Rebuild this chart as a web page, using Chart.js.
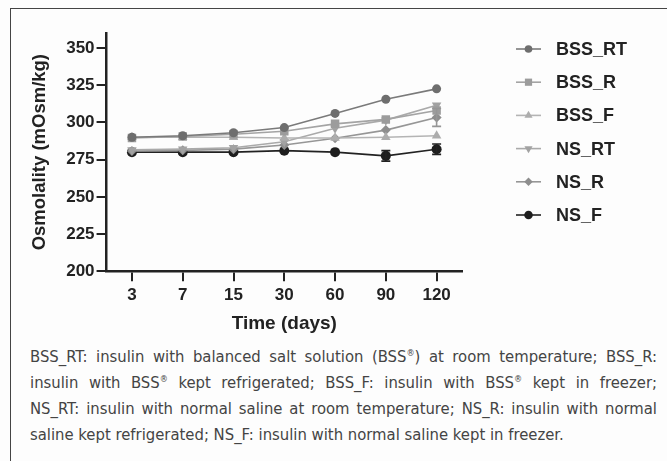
<!DOCTYPE html>
<html lang="en">
<head>
    <meta charset="UTF-8">
    <title>Osmolality</title>
    <script src="https://cdn.jsdelivr.net/npm/chart.js"></script>
    <style>
        body {
            margin: 0;
            background: #fdfdfd;
            width: 667px;
            height: 461px;
            overflow: hidden;
            position: relative;
        }
        .frame {
            position: absolute;
            left: 10px;
            top: 8px;
            width: 700px;
            height: 500px;
            border-left: 1.5px solid #444;
            border-top: 1.5px solid #444;
        }
        .chartbox {
            position: absolute;
            left: 0;
            top: 0;
            width: 667px;
            height: 340px;
        }
        .caption {
            position: absolute;
            left: 30px;
            top: 344px;
            width: 627px;
            font-family: "Liberation Sans Narrow", "DejaVu Sans Condensed", "Liberation Sans", sans-serif;
            font-stretch: condensed;
            font-size: 16.5px;
            line-height: 26px;
            color: #444;
        }
        .caption div {
            text-align: justify;
            text-align-last: justify;
        }
        .caption div.last {
            text-align-last: left;
        }
        .caption sup {
            font-size: 0.55em;
            line-height: 0;
        }
    </style>
</head>
<body>
    <div class="frame"></div>
    <div class="chartbox"><canvas id="osmChart" width="667" height="340"></canvas></div>
    <div class="caption">
        <div>BSS_RT: insulin with balanced salt solution (BSS<sup>&reg;</sup>) at room temperature; BSS_R:</div>
        <div>insulin with BSS<sup>&reg;</sup> kept refrigerated; BSS_F: insulin with BSS<sup>&reg;</sup> kept in freezer;</div>
        <div>NS_RT: insulin with normal saline at room temperature; NS_R: insulin with normal</div>
        <div class="last">saline kept refrigerated; NS_F: insulin with normal saline kept in freezer.</div>
    </div>

    <script>
        // time points (days)
        const days = ['3', '7', '15', '30', '60', '90', '120'];

        // osmolality, mOsm/kg
        const bssRT = [290, 291, 293, 296.5, 306, 315.5, 322.5];
        const bssR = [289.5, 290.5, 292, 294, 299, 302, 308];
        const bssF = [290, 290, 290, 289.5, 289.5, 290, 291];
        const nsRT = [281.5, 282, 283, 287, 296, 301.5, 311.5];
        const nsR = [280.8, 281.2, 282, 284.8, 289.3, 294.8, 303.3];
        const nsF = [280, 280, 280, 281, 280, 277.5, 282];

        // error bars (+/-)
        const nsRErr = [0, 0, 0, 0, 0, 0, 6];
        const nsFErr = [0, 0, 0, 0, 0, 3.5, 3.5];

        const yTicks = [200, 225, 250, 275, 300, 325, 350];

        const series = [
            { label: 'BSS_RT', data: bssRT, color: '#6e6e6e', line: '#7a7a7a', style: 'circle', radius: 4.5, rot: 0 },
            { label: 'BSS_R', data: bssR, color: '#9c9c9c', line: '#a4a4a4', style: 'rect', radius: 6, rot: 0 },
            { label: 'BSS_F', data: bssF, color: '#adadad', line: '#b4b4b4', style: 'triangle', radius: 5.5, rot: 0 },
            { label: 'NS_RT', data: nsRT, color: '#a2a2a2', line: '#aaaaaa', style: 'triangle', radius: 5.5, rot: 180 },
            { label: 'NS_R', data: nsR, color: '#8e8e8e', line: '#969696', style: 'rectRot', radius: 5, rot: 0, err: nsRErr },
            { label: 'NS_F', data: nsF, color: '#1e1e1e', line: '#222222', style: 'circle', radius: 5, rot: 0, err: nsFErr }
        ];

        function drawMarker(ctx, style, x, y, r, rot) {
            ctx.save();
            ctx.translate(x, y);
            ctx.rotate(rot * Math.PI / 180);
            ctx.beginPath();
            if (style === 'circle') {
                ctx.arc(0, 0, r, 0, Math.PI * 2);
            } else if (style === 'rect') {
                const s = r * Math.SQRT1_2;
                ctx.rect(-s, -s, 2 * s, 2 * s);
            } else if (style === 'rectRot') {
                ctx.moveTo(0, -r);
                ctx.lineTo(r, 0);
                ctx.lineTo(0, r);
                ctx.lineTo(-r, 0);
                ctx.closePath();
            } else if (style === 'triangle') {
                ctx.moveTo(0, -r);
                ctx.lineTo(r * 0.866, r * 0.5);
                ctx.lineTo(-r * 0.866, r * 0.5);
                ctx.closePath();
            }
            ctx.fill();
            ctx.restore();
        }

        const errorBars = {
            id: 'errorBars',
            afterDatasetsDraw(chart) {
                const ctx = chart.ctx;
                const yScale = chart.scales.y;
                chart.data.datasets.forEach((ds, i) => {
                    if (!ds.err) return;
                    const meta = chart.getDatasetMeta(i);
                    ctx.save();
                    ctx.strokeStyle = ds.borderColor;
                    ctx.lineWidth = 1.6;
                    ds.err.forEach((e, j) => {
                        if (!e) return;
                        const x = meta.data[j].x;
                        const top = yScale.getPixelForValue(ds.data[j] + e);
                        const bot = yScale.getPixelForValue(ds.data[j] - e);
                        ctx.beginPath();
                        ctx.moveTo(x, top); ctx.lineTo(x, bot);
                        ctx.moveTo(x - 4.5, top); ctx.lineTo(x + 4.5, top);
                        ctx.moveTo(x - 4.5, bot); ctx.lineTo(x + 4.5, bot);
                        ctx.stroke();
                    });
                    ctx.restore();
                });
            }
        };

        const sideLegend = {
            id: 'sideLegend',
            afterDraw(chart) {
                const ctx = chart.ctx;
                ctx.save();
                chart.data.datasets.forEach((ds, i) => {
                    const y = 49 + i * 33.2;
                    ctx.strokeStyle = ds.borderColor;
                    ctx.lineWidth = 1.6;
                    ctx.beginPath();
                    ctx.moveTo(516, y);
                    ctx.lineTo(541, y);
                    ctx.stroke();
                    ctx.fillStyle = ds.pointBackgroundColor;
                    drawMarker(ctx, ds.pointStyle, 528.5, y, ds.pointRadius * 0.85, ds.pointRotation);
                    ctx.fillStyle = '#222';
                    ctx.font = 'bold 18px "Liberation Sans", Arial, sans-serif';
                    ctx.textBaseline = 'middle';
                    ctx.fillText(ds.label, 556, y + 1);
                });
                ctx.restore();
            }
        };

        const ctx = document.getElementById('osmChart').getContext('2d');
        new Chart(ctx, {
            type: 'line',
            data: {
                labels: days,
                datasets: series.map(s => ({
                    label: s.label,
                    data: s.data,
                    err: s.err,
                    borderColor: s.line,
                    borderWidth: 1.6,
                    pointStyle: s.style,
                    pointRadius: s.radius,
                    pointRotation: s.rot,
                    pointBackgroundColor: s.color,
                    pointBorderColor: s.color,
                    pointBorderWidth: 0,
                    fill: false,
                    tension: 0
                }))
            },
            options: {
                responsive: false,
                animation: false,
                layout: {
                    padding: { left: 29, right: 205, top: 33, bottom: 5 }
                },
                plugins: {
                    legend: { display: false },
                    tooltip: { enabled: false }
                },
                scales: {
                    x: {
                        type: 'category',
                        offset: true,
                        border: { display: true, color: '#222', width: 2.5 },
                        grid: { drawOnChartArea: false, drawTicks: true, tickLength: 10, color: '#222', lineWidth: 2 },
                        ticks: {
                            color: '#222',
                            padding: 4,
                            font: { family: '"Liberation Sans", Arial, sans-serif', size: 17, weight: 'bold' }
                        },
                        title: {
                            display: true,
                            text: 'Time (days)',
                            color: '#222',
                            padding: { top: 2.5, bottom: 0 },
                            font: { family: '"Liberation Sans", Arial, sans-serif', size: 19, weight: 'bold' }
                        }
                    },
                    y: {
                        min: 200,
                        max: 360,
                        border: { display: true, color: '#222', width: 2.5 },
                        grid: { drawOnChartArea: false, drawTicks: true, tickLength: 10, color: '#222', lineWidth: 2 },
                        afterBuildTicks: axis => {
                            axis.ticks = yTicks.map(v => ({ value: v }));
                        },
                        ticks: {
                            color: '#222',
                            padding: 2,
                            font: { family: '"Liberation Sans", Arial, sans-serif', size: 17, weight: 'bold' }
                        },
                        title: {
                            display: true,
                            text: 'Osmolality (mOsm/kg)',
                            color: '#222',
                            padding: { top: 0, bottom: 13 },
                            font: { family: '"Liberation Sans", Arial, sans-serif', size: 18.5, weight: 'bold' }
                        }
                    }
                }
            },
            plugins: [errorBars, sideLegend]
        });
    </script>
</body>
</html>
